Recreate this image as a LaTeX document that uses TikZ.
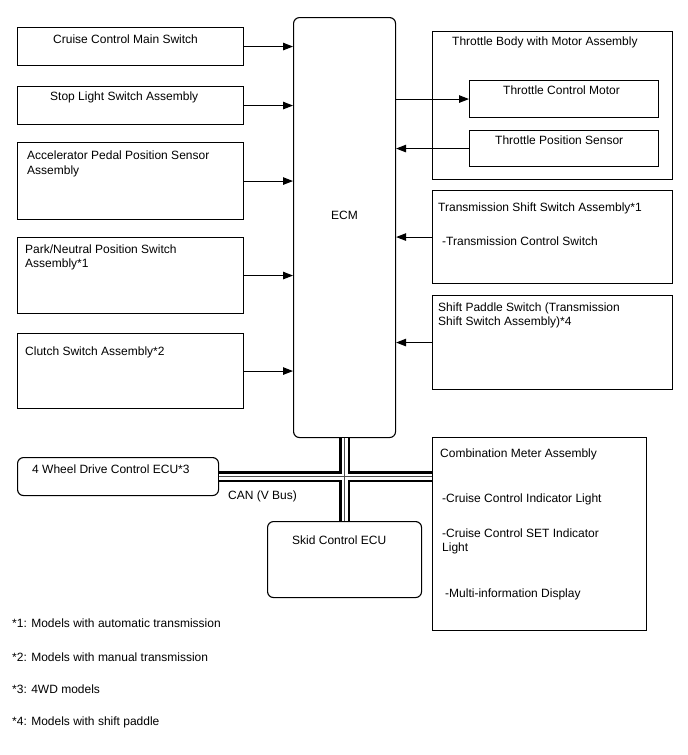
\documentclass[tikz,border=0pt]{standalone}
\usepackage{fontspec}
\setmainfont{Liberation Sans}
\usetikzlibrary{arrows.meta}
\begin{document}
\begin{tikzpicture}[x=1pt, y=-1pt, >={Triangle[length=10pt,width=7.5pt]},
	box/.style={draw, line width=1.1pt, inner sep=0pt, anchor=north west},
	rbox/.style={box, rounded corners=6pt},
	lbl/.style={anchor=base west, inner sep=0pt, align=left, font=\fontsize{12}{14.5}\selectfont}]
	\useasboundingbox (0,0) rectangle (688,755);
	% boxes on the left side
	\node[box, minimum width=226, minimum height=38] (cruise) at (17,27) {};
	\node[box, minimum width=226, minimum height=38] (stop) at (17,86) {};
	\node[box, minimum width=226, minimum height=77] (accel) at (17,142) {};
	\node[box, minimum width=226, minimum height=76] (park) at (17,237) {};
	\node[box, minimum width=226, minimum height=75] (clutch) at (17,333) {};
	\node[lbl] (tcruise) at (53,43) {Cruise Control Main Switch};
	\node[lbl] (tstop) at (50,100) {Stop Light Switch Assembly};
	\node[lbl] (taccel) at (27,174) {Accelerator Pedal Position Sensor\\Assembly};
	\node[lbl] (tpark) at (25,267.5) {Park/Neutral Position Switch\\Assembly*1};
	\node[lbl] (tclutch) at (25,355) {Clutch Switch Assembly*2};
	% ECM
	\node[rbox, minimum width=102, minimum height=420] (ecm) at (293,17) {};
	\node[font=\fontsize{12}{14.5}\selectfont] (tecm) at ([yshift=12pt]ecm.center) {ECM};
	% boxes on the right side
	\node[box, minimum width=240, minimum height=148] (tbody) at (432,31) {};
	\node[box, minimum width=189, minimum height=37] (motor) at (469,80) {};
	\node[box, minimum width=189, minimum height=36] (tps) at (469,130) {};
	\node[box, minimum width=240, minimum height=93] (tshift) at (432,190) {};
	\node[box, minimum width=240, minimum height=94] (paddle) at (432,295) {};
	\node[box, minimum width=214, minimum height=193] (comb) at (432,437) {};
	\node[lbl] (ttbody) at (452,45) {Throttle Body with Motor Assembly};
	\node[lbl] (tmotor) at (503,94) {Throttle Control Motor};
	\node[lbl] (ttps) at (495,144) {Throttle Position Sensor};
	\node[lbl] (ttshift) at (438,211) {Transmission Shift Switch Assembly*1};
	\node[lbl] (ttswitch) at (442,245) {-Transmission Control Switch};
	\node[lbl] (tpaddle) at (438,325.5) {Shift Paddle Switch (Transmission\\Shift Switch Assembly)*4};
	\node[lbl] (tcomb) at (440,457) {Combination Meter Assembly};
	\node[lbl] (tind) at (442,502) {-Cruise Control Indicator Light};
	\node[lbl] (tset) at (442,551.5) {-Cruise Control SET Indicator\\Light};
	\node[lbl] (tdisp) at (445,597) {-Multi-information Display};
	% ECUs on the CAN bus
	\node[rbox, minimum width=201, minimum height=38] (wd) at (17,457) {};
	\node[rbox, minimum width=154, minimum height=76] (skid) at (267,521) {};
	\node[lbl] (twd) at (32,473) {4 Wheel Drive Control ECU*3};
	\node[lbl] (tskid) at (292,544) {Skid Control ECU};
	\node[lbl] (tcan) at (228,499) {CAN (V Bus)};
	% signal arrows
	\foreach \n in {cruise,stop,accel,park,clutch}
		\draw[->, line width=1.1pt] (\n.east) -- (\n.east -| ecm.west);
	\draw[->, line width=1.1pt] (motor.west -| ecm.east) -- (motor.west);
	\foreach \n in {tps,tshift,paddle}
		\draw[->, line width=1.1pt] (\n.west) -- (\n.west -| ecm.east);
	% CAN bus
	\foreach \w/\c in {11pt/black, 6pt/white, 0.7pt/black!70} {
		\draw[line width=\w, draw=\c] (wd.east) -- (wd.east -| comb.west);
		\draw[line width=\w, draw=\c] (ecm.south) -- (skid.north);
	}
	% notes
	\node[lbl] (n1) at (12,627) {*1: Models with automatic transmission};
	\node[lbl] (n2) at (12,661) {*2: Models with manual transmission};
	\node[lbl] (n3) at (12,693) {*3: 4WD models};
	\node[lbl] (n4) at (12,725) {*4: Models with shift paddle};
\end{tikzpicture}
\end{document}
